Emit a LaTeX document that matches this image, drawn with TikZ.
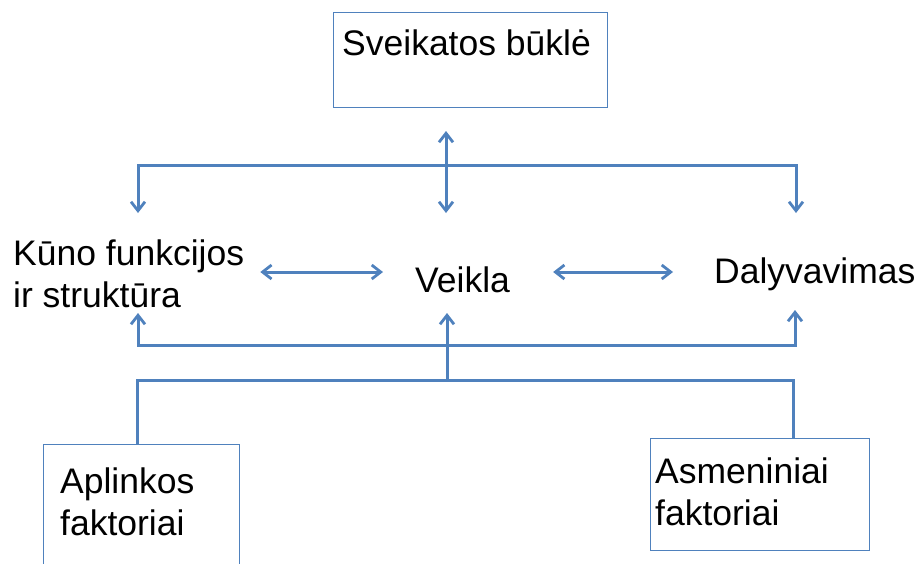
\documentclass[tikz,border=0pt]{standalone}
\usepackage{fontspec}
\setmainfont{Liberation Sans}
\usetikzlibrary{arrows.meta}
\definecolor{iblue}{RGB}{79,129,189}
\begin{document}
\begin{tikzpicture}[x=1pt,y=-1pt,
  box/.style={draw=iblue, line width=1.2pt, rectangle, inner sep=0pt, anchor=north west},
  lbl/.style={anchor=north west, inner sep=0pt, align=left, font=\fontsize{35.5}{42}\selectfont},
  link/.style={draw=iblue, line width=3pt},
  barb/.tip={Straight Barb[length=9pt,width=14pt,line width=2.8pt]},
  tip/.style={-barb},
  both/.style={barb-barb}]
\useasboundingbox (0,0) rectangle (920,563);

% boxes
\node[box, minimum width=274pt, minimum height=95pt] (health) at (333,12) {};
\node[box, minimum width=196pt, minimum height=130pt] (env) at (43,444) {};
\node[box, minimum width=219pt, minimum height=112pt] (pers) at (650,438) {};

% labels
\node[lbl] (healthtxt) at (342,29.5) {Sveikatos būklė};
\node[lbl] (kuno) at (13,239.5) {Kūno funkcijos\\ir struktūra};
\node[lbl] (veikla) at (415,266.5) {Veikla};
\node[lbl] (daly) at (714,257.5) {Dalyvavimas};
\node[lbl] (envtxt) at (60,467.5) {Aplinkos\\faktoriai};
\node[lbl] (perstxt) at (655,457.5) {Asmeniniai\\faktoriai};

% junction points
\coordinate (hubtop) at (446,131);
\coordinate (hubbot) at (446,213);
\coordinate (ul) at (138,165);
\coordinate (ur) at (796,165);
\coordinate (ml) at (138,345);
\coordinate (mr) at (795,345);
\coordinate (mid) at (447,380);
\coordinate (jl) at (137,380);
\coordinate (jr) at (793,380);
\coordinate (ar) at (0,272);

% health state <-> activity bar
\draw[link, both] (hubtop) -- (hubbot);
\draw[link, both] (138,213) -- (ul) -- (ur) -- (796,213);

% horizontal links between the three components
\draw[link, both, shorten <=16pt, shorten >=32pt] (kuno.east |- ar) -- (veikla.west |- ar);
\draw[link, both, shorten <=43pt, shorten >=41pt] (veikla.east |- ar) -- (daly.west |- ar);

% contextual factors feeding upward
\draw[link, both] (138,313) -- (ml) -- (mr) -- (795,310);
\draw[link, tip] (mid) -- (447,313);
\draw[link] (env.north -| jl) -- (jl) -- (jr) -- (pers.north -| jr);
\end{tikzpicture}
\end{document}
